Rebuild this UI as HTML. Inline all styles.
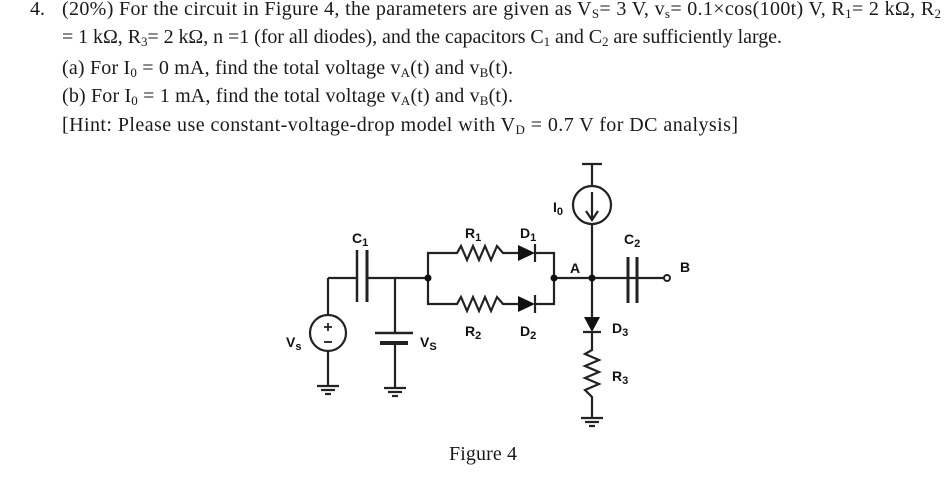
<!DOCTYPE html>
<html><head><meta charset="utf-8"><style>
html,body{margin:0;padding:0;background:#fff;}
svg{display:block;}
.t{font-family:"Liberation Serif",serif;font-size:20px;fill:#1a1a1a;}
.l{font-family:"Liberation Sans",sans-serif;font-size:14px;font-weight:bold;fill:#111;}
.s{font-size:13px;}
.ls{font-size:11px;}
</style></head><body>
<svg width="946" height="479" viewBox="0 0 946 479" xmlns="http://www.w3.org/2000/svg">
<text class="t" x="30" y="15">4.</text>
<text class="t" x="62" y="15" textLength="879" lengthAdjust="spacing">(20%) For the circuit in Figure 4, the parameters are given as V<tspan class="s" dy="3">S</tspan><tspan dy="-3">= 3 V, v</tspan><tspan class="s" dy="3">s</tspan><tspan dy="-3">= 0.1×cos(100t) V, R</tspan><tspan class="s" dy="3">1</tspan><tspan dy="-3">= 2 kΩ, R</tspan><tspan class="s" dy="3">2</tspan></text>
<text class="t" x="62" y="43" textLength="720" lengthAdjust="spacing">= 1 kΩ, R<tspan class="s" dy="3">3</tspan><tspan dy="-3">= 2 kΩ, n =1 (for all diodes), and the capacitors C</tspan><tspan class="s" dy="3">1</tspan><tspan dy="-3"> and C</tspan><tspan class="s" dy="3">2</tspan><tspan dy="-3"> are sufficiently large.</tspan></text>
<text class="t" x="62" y="74" textLength="451" lengthAdjust="spacing">(a) For I<tspan class="s" dy="3">0</tspan><tspan dy="-3"> = 0 mA, find the total voltage v</tspan><tspan class="s" dy="3">A</tspan><tspan dy="-3">(t) and v</tspan><tspan class="s" dy="3">B</tspan><tspan dy="-3">(t).</tspan></text>
<text class="t" x="62" y="102" textLength="451" lengthAdjust="spacing">(b) For I<tspan class="s" dy="3">0</tspan><tspan dy="-3"> = 1 mA, find the total voltage v</tspan><tspan class="s" dy="3">A</tspan><tspan dy="-3">(t) and v</tspan><tspan class="s" dy="3">B</tspan><tspan dy="-3">(t).</tspan></text>
<text class="t" x="62" y="131" textLength="676" lengthAdjust="spacing">[Hint: Please use constant-voltage-drop model with V<tspan class="s" dy="3">D</tspan><tspan dy="-3"> = 0.7 V for DC analysis]</tspan></text>

<g stroke="#222" stroke-width="2.2" fill="none">
<circle cx="328" cy="333" r="18"/>
<line x1="328" y1="315" x2="328" y2="278"/>
<line x1="328" y1="351" x2="328" y2="385"/>
<line x1="317" y1="386" x2="339" y2="386"/>
<line x1="321" y1="390" x2="335" y2="390"/>
<line x1="325" y1="394" x2="331" y2="394"/>
<line x1="328" y1="278" x2="357" y2="278"/>
<line x1="357" y1="250" x2="357" y2="302" stroke-width="2.5"/>
<line x1="367" y1="250" x2="367" y2="302" stroke-width="3"/>
<line x1="367" y1="278" x2="428" y2="278"/>
<line x1="395" y1="278" x2="395" y2="333"/>
<line x1="375" y1="333" x2="413" y2="333" stroke-width="2.5"/>
<line x1="380" y1="343" x2="408" y2="343" stroke-width="4"/>
<line x1="395" y1="343" x2="395" y2="387"/>
<line x1="384" y1="388" x2="406" y2="388"/>
<line x1="388" y1="392" x2="402" y2="392"/>
<line x1="392" y1="396" x2="398" y2="396"/>
<polyline points="428,278 428,253 457,253 461,246 467,260 473,246 479,260 485,246 491,260 497,246 503,253 518,253"/>
<polyline points="428,278 428,304 457,304 461,297 467,311 473,297 479,311 485,297 491,311 497,297 503,304 518,304"/>
<line x1="535" y1="244" x2="535" y2="262"/>
<line x1="535" y1="295" x2="535" y2="313"/>
<polyline points="535,253 554,253 554,304 535,304"/>
<line x1="554" y1="278" x2="667" y2="278"/>
<line x1="582" y1="164" x2="602" y2="164"/>
<line x1="592" y1="164" x2="592" y2="186"/>
<circle cx="592" cy="205" r="19"/>
<line x1="592" y1="192" x2="592" y2="219"/>
<polyline points="586,211 592,220 598,211"/>
<line x1="592" y1="224" x2="592" y2="317"/>
<line x1="628" y1="257" x2="628" y2="303" stroke-width="3"/>
<line x1="637" y1="257" x2="637" y2="303" stroke-width="3"/>
<line x1="583" y1="332" x2="601" y2="332"/>
<polyline points="592,332 592,350 585,354 599,360 585,366 599,372 585,378 599,384 585,390 592,397 592,417"/>
<line x1="581" y1="418" x2="603" y2="418"/>
<line x1="585" y1="422" x2="599" y2="422"/>
<line x1="589" y1="426" x2="595" y2="426"/>
</g>
<g fill="#111">
<polygon points="518,245 518,261 535,253"/>
<polygon points="518,296 518,312 535,304"/>
<polygon points="584,317 600,317 592,332"/>
<circle cx="428" cy="278" r="3.5"/>
<circle cx="554" cy="278" r="3.5"/>
<circle cx="592" cy="278" r="3.5"/>
</g>
<circle cx="667" cy="278" r="3" fill="#fff" stroke="#222" stroke-width="2"/>
<g stroke="#222" stroke-width="1.8">
<line x1="328" y1="323" x2="328" y2="331"/><line x1="324" y1="327" x2="332" y2="327"/>
<line x1="324" y1="342" x2="332" y2="342"/>
</g>
<text class="l" x="352" y="243">C<tspan class="ls" dy="3">1</tspan></text>
<text class="l" x="465" y="238">R<tspan class="ls" dy="3">1</tspan></text>
<text class="l" x="520" y="238">D<tspan class="ls" dy="3">1</tspan></text>
<text class="l" x="465" y="336">R<tspan class="ls" dy="3">2</tspan></text>
<text class="l" x="520" y="336">D<tspan class="ls" dy="3">2</tspan></text>
<text class="l" x="553" y="212">I<tspan class="ls" dy="3">0</tspan></text>
<text class="l" x="570" y="273">A</text>
<text class="l" x="624" y="244">C<tspan class="ls" dy="3">2</tspan></text>
<text class="l" x="680" y="272">B</text>
<text class="l" x="612" y="333">D<tspan class="ls" dy="3">3</tspan></text>
<text class="l" x="612" y="381">R<tspan class="ls" dy="3">3</tspan></text>
<text class="l" x="286" y="347">V<tspan class="ls" dy="3">s</tspan></text>
<text class="l" x="420" y="347">V<tspan class="ls" dy="3">S</tspan></text>
<text class="t" x="449" y="460" textLength="68" lengthAdjust="spacing">Figure 4</text>
</svg>
</body></html>
